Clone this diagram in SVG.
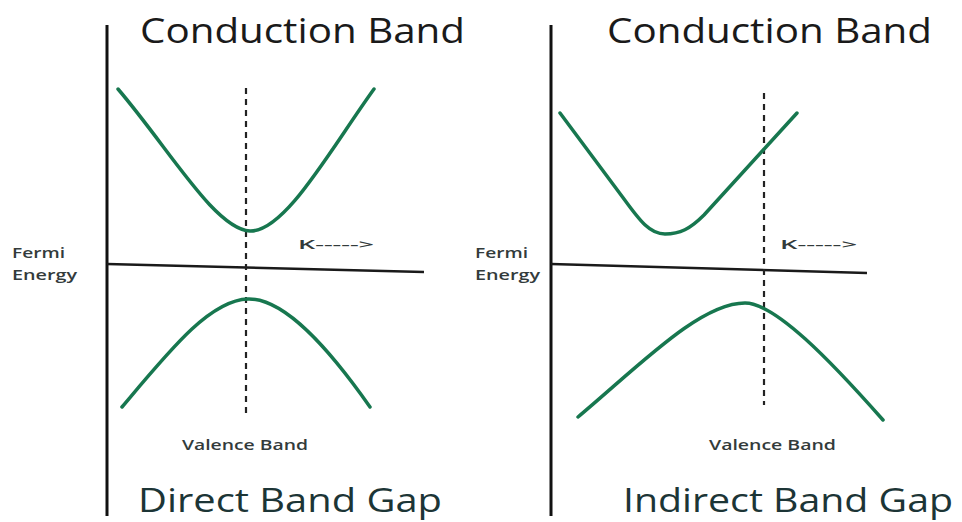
<svg xmlns="http://www.w3.org/2000/svg" width="962" height="522" viewBox="0 0 962 522">
<style>
.axis{stroke:#111;stroke-width:3;fill:none}
.haxis{stroke:#1a1a1a;stroke-width:2.5;fill:none}
.dash{stroke:#222;stroke-width:2.2;stroke-dasharray:6 5;fill:none}
.band{stroke:#17774f;stroke-width:3.5;fill:none;stroke-linecap:round;stroke-linejoin:round}
.title{font-family:"Open Sans","Liberation Sans",sans-serif;font-size:34px;fill:#1a1a1a}
.foot{font-family:"Open Sans","Liberation Sans",sans-serif;font-size:33px;fill:#1c3536}
.lbl{font-family:"Open Sans","Liberation Sans",sans-serif;font-size:15px;font-weight:600;fill:#333b3b}
.k{font-family:"Open Sans","Liberation Sans",sans-serif;font-size:12px;font-weight:600;fill:#333b3b}
</style>
<rect width="962" height="522" fill="#fff"/>
<g id="direct-panel">
<g id="direct-axes">
<line class="axis" x1="107" y1="25" x2="107" y2="516"/>
<line class="haxis" x1="107" y1="264" x2="424" y2="272"/>
<line class="dash" x1="246" y1="88" x2="246" y2="415"/>
</g>
<g id="direct-conduction">
<path class="band" d="M118,89 C170,150 215,229 250,231 C285,232 330,150 374,89"/>
</g>
<g id="direct-valence">
<path class="band" d="M122,407 C170,350 210,300 248,299 C285,298 330,350 370,407"/>
</g>
<text class="title" x="140" y="43" textLength="325" lengthAdjust="spacingAndGlyphs">Conduction Band</text>
<text class="lbl" x="12" y="258" textLength="53" lengthAdjust="spacingAndGlyphs">Fermi</text>
<text class="lbl" x="12" y="280" textLength="65" lengthAdjust="spacingAndGlyphs">Energy</text>
<text class="k" x="298" y="249" textLength="76" lengthAdjust="spacingAndGlyphs">K-----&gt;</text>
<text class="lbl" x="182" y="450" textLength="126" lengthAdjust="spacingAndGlyphs">Valence Band</text>
<text class="foot" x="138" y="512" textLength="304" lengthAdjust="spacingAndGlyphs">Direct Band Gap</text>
</g>
<g id="indirect-panel">
<g id="indirect-axes">
<line class="axis" x1="551" y1="25" x2="551" y2="516"/>
<line class="haxis" x1="551" y1="264" x2="867" y2="273"/>
<line class="dash" x1="764" y1="93" x2="764" y2="405"/>
</g>
<g id="indirect-conduction">
<path class="band" d="M560,113 L624,199 C640,221 650,234 665,234 C680,234 690,229 704,215 L797,113"/>
</g>
<g id="indirect-valence">
<path class="band" d="M578,417 C640,365 700,303 745,303 C775,303 830,360 883,420"/>
</g>
<text class="title" x="607" y="43" textLength="325" lengthAdjust="spacingAndGlyphs">Conduction Band</text>
<text class="lbl" x="475" y="258" textLength="53" lengthAdjust="spacingAndGlyphs">Fermi</text>
<text class="lbl" x="475" y="280" textLength="65" lengthAdjust="spacingAndGlyphs">Energy</text>
<text class="k" x="780" y="249" textLength="77" lengthAdjust="spacingAndGlyphs">K-----&gt;</text>
<text class="lbl" x="709" y="450" textLength="127" lengthAdjust="spacingAndGlyphs">Valence Band</text>
<text class="foot" x="623" y="512" textLength="330" lengthAdjust="spacingAndGlyphs">Indirect Band Gap</text>
</g>
</svg>
